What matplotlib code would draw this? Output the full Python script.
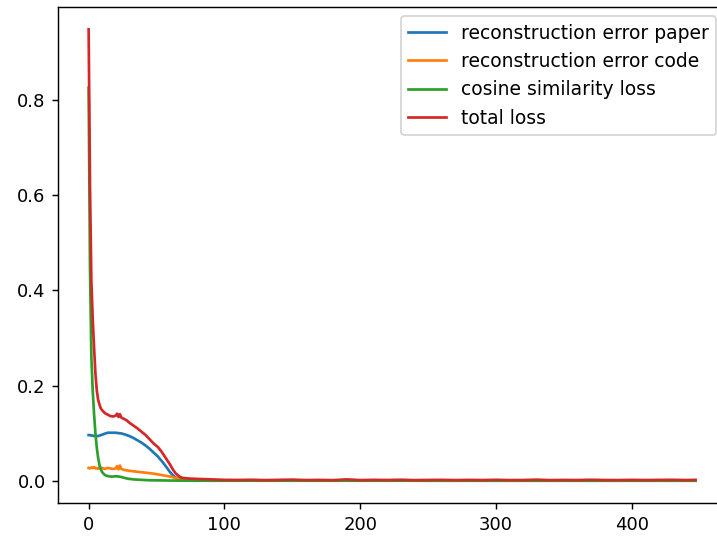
import matplotlib
matplotlib.use('Agg')
import matplotlib.pyplot as plt

# --- data (epoch -> loss) ---
epochs = [0, 1, 2, 3, 4, 5, 6, 7, 8, 9, 10, 12, 14, 16, 18, 20, 21, 22, 23, 24,
          26, 28, 30, 33, 36, 39, 42, 45, 48, 51, 54, 57, 60, 62, 64, 66, 68, 70,
          73, 76, 80, 85, 90, 95, 100, 110, 120, 130, 140, 150, 160, 170, 180,
          190, 200, 210, 220, 230, 240, 250, 260, 270, 280, 290, 300, 310, 320,
          330, 340, 350, 360, 370, 380, 390, 400, 410, 420, 430, 440, 447]

rec_paper = [0.096, 0.096, 0.095, 0.095, 0.094, 0.094, 0.094, 0.094, 0.095, 0.096,
             0.097, 0.099, 0.101, 0.101, 0.101, 0.101, 0.1005, 0.100, 0.100, 0.0995,
             0.098, 0.096, 0.094, 0.090, 0.085, 0.080, 0.074, 0.067, 0.059, 0.051,
             0.041, 0.030, 0.018, 0.012, 0.007, 0.0045, 0.003, 0.0025,
             0.002, 0.0018, 0.0015, 0.0012, 0.001, 0.001, 0.0008, 0.0007, 0.0006,
             0.0006, 0.0005, 0.0005, 0.0005, 0.0005, 0.0004, 0.0004, 0.0004, 0.0004,
             0.0004, 0.0004, 0.0004, 0.0003, 0.0003, 0.0003, 0.0003, 0.0003, 0.0003,
             0.0003, 0.0003, 0.0003, 0.0003, 0.0003, 0.0003, 0.0003, 0.0003, 0.0003,
             0.0003, 0.0003, 0.0003, 0.0003, 0.0003, 0.0003]

rec_code = [0.027, 0.026, 0.028, 0.027, 0.029, 0.026, 0.027, 0.025, 0.028, 0.026,
            0.027, 0.025, 0.027, 0.026, 0.025, 0.026, 0.031, 0.024, 0.032, 0.025,
            0.023, 0.022, 0.021, 0.020, 0.019, 0.018, 0.017, 0.016, 0.015, 0.0135,
            0.012, 0.0105, 0.009, 0.0075, 0.006, 0.005, 0.004, 0.0035,
            0.003, 0.0025, 0.002, 0.0018, 0.0015, 0.0012, 0.001, 0.0009, 0.0008,
            0.0008, 0.0007, 0.0007, 0.0007, 0.0006, 0.0006, 0.0006, 0.0006, 0.0005,
            0.0005, 0.0005, 0.0005, 0.0005, 0.0005, 0.0005, 0.0005, 0.0005, 0.0005,
            0.0005, 0.0005, 0.0005, 0.0005, 0.0005, 0.0005, 0.0005, 0.0005, 0.0005,
            0.0005, 0.0005, 0.0005, 0.0005, 0.0005, 0.0005]

cos_loss = [0.825, 0.45, 0.26, 0.19, 0.14, 0.10, 0.07, 0.048, 0.033, 0.024,
            0.018, 0.012, 0.010, 0.009, 0.009, 0.0095, 0.0095, 0.009, 0.0085, 0.008,
            0.0065, 0.005, 0.004, 0.003, 0.0025, 0.002, 0.0015, 0.0012, 0.001, 0.0009,
            0.0008, 0.0007, 0.0006, 0.0005, 0.0005, 0.0004, 0.0004, 0.0004,
            0.0003, 0.0003, 0.0003, 0.0003, 0.0002, 0.0002, 0.0002, 0.0002, 0.0002,
            0.0002, 0.0002, 0.0002, 0.0002, 0.0002, 0.0002, 0.0002, 0.0002, 0.0002,
            0.0002, 0.0002, 0.0002, 0.0002, 0.0002, 0.0002, 0.0002, 0.0002, 0.0002,
            0.0002, 0.0002, 0.0002, 0.0002, 0.0002, 0.0002, 0.0002, 0.0002, 0.0002,
            0.0002, 0.0002, 0.0002, 0.0002, 0.0002, 0.0002]

total_loss = [0.948, 0.62, 0.42, 0.34, 0.28, 0.225, 0.19, 0.17, 0.16, 0.152,
              0.148, 0.142, 0.139, 0.136, 0.135, 0.137, 0.141, 0.134, 0.140, 0.133,
              0.130, 0.127, 0.122, 0.116, 0.110, 0.103, 0.096, 0.087, 0.078, 0.071,
              0.060, 0.047, 0.034, 0.024, 0.016, 0.011, 0.007, 0.006,
              0.005, 0.0045, 0.004, 0.0035, 0.003, 0.0025, 0.002, 0.0018, 0.0022,
              0.0015, 0.002, 0.0025, 0.0016, 0.0019, 0.0014, 0.003, 0.0015, 0.002,
              0.0017, 0.0022, 0.0014, 0.0018, 0.002, 0.0015, 0.0019, 0.0016, 0.0021,
              0.0015, 0.0017, 0.0024, 0.0015, 0.0018, 0.0016, 0.0022, 0.0017, 0.0015,
              0.002, 0.0016, 0.0019, 0.0021, 0.0016, 0.002]

# --- plot ---
fig = plt.figure(figsize=(717 / 130, 538 / 130), dpi=130)
# axes runs a little past the right edge, as in the cropped original
ax = fig.add_axes([0.0813, 0.0645, 0.931, 0.9230])

ax.plot(epochs, rec_paper, label='reconstruction error paper')
ax.plot(epochs, rec_code, label='reconstruction error code')
ax.plot(epochs, cos_loss, label='cosine similarity loss')
ax.plot(epochs, total_loss, label='total loss')
ax.legend(loc='upper right', fontsize=10.4)

fig.savefig('out.png', dpi=130)
